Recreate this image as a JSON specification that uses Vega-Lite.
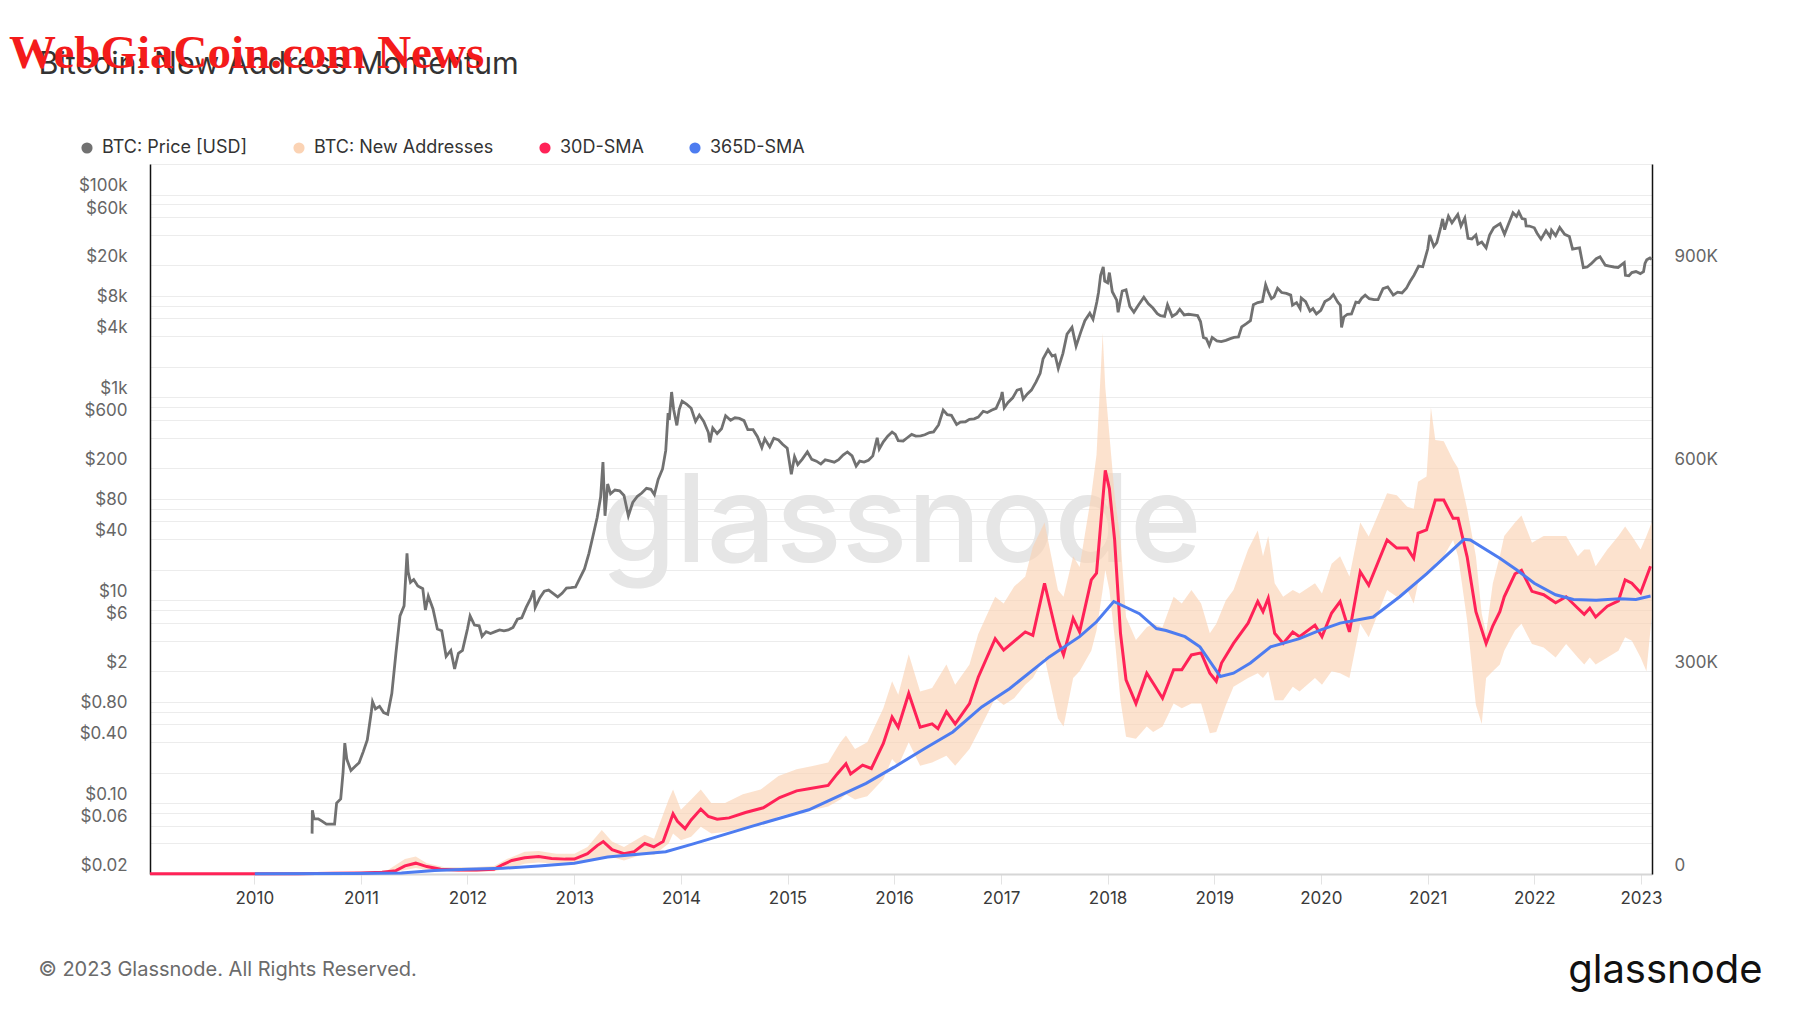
{
  "$schema": "https://vega.github.io/schema/vega-lite/v6.json",
  "autosize": "none",
  "padding": {"left": 150, "top": 164, "right": 148, "bottom": 139},
  "width": 1502,
  "height": 710,
  "background": "white",
  "config": {"view": {"stroke": null}, "font": "Inter"},
  "title": {"text": "WebGiaCoin.com News", "anchor": "start", "frame": "group", "dx": -141, "offset": -66, "baseline": "alphabetic", "font": "Liberation Serif", "fontSize": 47, "fontWeight": "bold", "color": "#f41b1b", "zindex": 10},
  "datasets": {
    "price": [
      {"d":"2010-07-18","p":0.05},{"d":"2010-07-19","p":0.085},{"d":"2010-07-25","p":0.07},{"d":"2010-08-08","p":0.07},{"d":"2010-08-22","p":0.066},{"d":"2010-09-05","p":0.062},{"d":"2010-09-19","p":0.062},{"d":"2010-10-03","p":0.062},{"d":"2010-10-10","p":0.1},{"d":"2010-10-24","p":0.11},{"d":"2010-11-01","p":0.2},{"d":"2010-11-07","p":0.39},{"d":"2010-11-14","p":0.27},{"d":"2010-11-28","p":0.21},{"d":"2010-12-12","p":0.23},{"d":"2010-12-26","p":0.25},
      {"d":"2011-01-09","p":0.32},{"d":"2011-01-23","p":0.42},{"d":"2011-02-06","p":0.8},{"d":"2011-02-10","p":1.0},{"d":"2011-02-20","p":0.85},{"d":"2011-03-06","p":0.9},{"d":"2011-03-20","p":0.78},{"d":"2011-04-03","p":0.75},{"d":"2011-04-17","p":1.2},{"d":"2011-05-01","p":3.0},{"d":"2011-05-15","p":7.0},{"d":"2011-05-29","p":8.8},{"d":"2011-06-08","p":29},{"d":"2011-06-12","p":19},{"d":"2011-06-20","p":15},{"d":"2011-07-01","p":16},{"d":"2011-07-15","p":13.8},{"d":"2011-08-01","p":13},{"d":"2011-08-10","p":8},{"d":"2011-08-20","p":11},{"d":"2011-09-05","p":8.2},{"d":"2011-09-20","p":5.2},{"d":"2011-10-05","p":5},{"d":"2011-10-20","p":2.8},{"d":"2011-11-05","p":3.2},{"d":"2011-11-18","p":2.1},{"d":"2011-12-01","p":3},{"d":"2011-12-15","p":3.2},
      {"d":"2012-01-01","p":5.2},{"d":"2012-01-10","p":7},{"d":"2012-01-25","p":5.7},{"d":"2012-02-10","p":5.6},{"d":"2012-02-20","p":4.4},{"d":"2012-03-05","p":4.9},{"d":"2012-03-20","p":4.7},{"d":"2012-04-05","p":4.9},{"d":"2012-04-20","p":5.1},{"d":"2012-05-05","p":5.0},{"d":"2012-05-20","p":5.1},{"d":"2012-06-05","p":5.4},{"d":"2012-06-20","p":6.5},{"d":"2012-07-05","p":6.7},{"d":"2012-07-20","p":8.5},{"d":"2012-08-05","p":10.5},{"d":"2012-08-15","p":12.5},{"d":"2012-08-20","p":8.5},{"d":"2012-09-05","p":10.6},{"d":"2012-09-20","p":12.3},{"d":"2012-10-05","p":12.6},{"d":"2012-10-20","p":11.7},{"d":"2012-11-05","p":10.8},{"d":"2012-11-20","p":11.7},{"d":"2012-12-05","p":13.2},{"d":"2012-12-20","p":13.3},
      {"d":"2013-01-05","p":13.5},{"d":"2013-01-20","p":16.5},{"d":"2013-02-05","p":20.5},{"d":"2013-02-20","p":29},{"d":"2013-03-05","p":42},{"d":"2013-03-20","p":65},{"d":"2013-04-01","p":104},{"d":"2013-04-09","p":230},{"d":"2013-04-16","p":68},{"d":"2013-04-25","p":140},{"d":"2013-05-05","p":112},{"d":"2013-05-20","p":122},{"d":"2013-06-05","p":120},{"d":"2013-06-20","p":108},{"d":"2013-07-05","p":68},{"d":"2013-07-20","p":92},{"d":"2013-08-05","p":106},{"d":"2013-08-20","p":114},{"d":"2013-09-05","p":127},{"d":"2013-09-20","p":124},{"d":"2013-10-02","p":110},{"d":"2013-10-15","p":155},{"d":"2013-10-30","p":197},{"d":"2013-11-10","p":300},{"d":"2013-11-18","p":700},{"d":"2013-11-22","p":600},{"d":"2013-11-30","p":1130},{"d":"2013-12-07","p":760},{"d":"2013-12-18","p":530},{"d":"2013-12-26","p":760},
      {"d":"2014-01-05","p":920},{"d":"2014-01-20","p":860},{"d":"2014-02-05","p":780},{"d":"2014-02-20","p":580},{"d":"2014-03-05","p":670},{"d":"2014-03-20","p":580},{"d":"2014-04-05","p":450},{"d":"2014-04-10","p":360},{"d":"2014-04-20","p":500},{"d":"2014-05-05","p":440},{"d":"2014-05-20","p":490},{"d":"2014-06-03","p":660},{"d":"2014-06-20","p":595},{"d":"2014-07-05","p":630},{"d":"2014-07-20","p":620},{"d":"2014-08-05","p":590},{"d":"2014-08-18","p":480},{"d":"2014-09-05","p":480},{"d":"2014-09-20","p":410},{"d":"2014-10-05","p":320},{"d":"2014-10-15","p":390},{"d":"2014-11-01","p":325},{"d":"2014-11-15","p":395},{"d":"2014-12-01","p":380},{"d":"2014-12-15","p":345},{"d":"2014-12-31","p":315},
      {"d":"2015-01-14","p":175},{"d":"2015-01-25","p":260},{"d":"2015-02-05","p":218},{"d":"2015-02-20","p":245},{"d":"2015-03-10","p":290},{"d":"2015-03-25","p":245},{"d":"2015-04-10","p":235},{"d":"2015-04-25","p":220},{"d":"2015-05-10","p":242},{"d":"2015-05-25","p":237},{"d":"2015-06-10","p":230},{"d":"2015-06-25","p":243},{"d":"2015-07-10","p":270},{"d":"2015-07-25","p":290},{"d":"2015-08-10","p":265},{"d":"2015-08-24","p":210},{"d":"2015-09-05","p":235},{"d":"2015-09-20","p":230},{"d":"2015-10-05","p":240},{"d":"2015-10-20","p":265},{"d":"2015-11-04","p":400},{"d":"2015-11-11","p":310},{"d":"2015-11-25","p":365},{"d":"2015-12-10","p":415},{"d":"2015-12-25","p":455},
      {"d":"2016-01-05","p":432},{"d":"2016-01-15","p":375},{"d":"2016-02-01","p":372},{"d":"2016-02-15","p":400},{"d":"2016-03-01","p":432},{"d":"2016-03-15","p":415},{"d":"2016-04-01","p":417},{"d":"2016-04-15","p":428},{"d":"2016-05-01","p":450},{"d":"2016-05-15","p":457},{"d":"2016-06-01","p":535},{"d":"2016-06-17","p":750},{"d":"2016-07-01","p":675},{"d":"2016-07-15","p":665},{"d":"2016-08-02","p":540},{"d":"2016-08-15","p":570},{"d":"2016-09-01","p":575},{"d":"2016-09-15","p":607},{"d":"2016-10-01","p":615},{"d":"2016-10-15","p":640},{"d":"2016-11-01","p":730},{"d":"2016-11-15","p":710},{"d":"2016-12-01","p":750},{"d":"2016-12-15","p":780},
      {"d":"2017-01-01","p":1000},{"d":"2017-01-05","p":1130},{"d":"2017-01-12","p":790},{"d":"2017-01-25","p":890},{"d":"2017-02-10","p":990},{"d":"2017-02-25","p":1180},{"d":"2017-03-10","p":1210},{"d":"2017-03-18","p":960},{"d":"2017-04-01","p":1080},{"d":"2017-04-15","p":1180},{"d":"2017-05-01","p":1420},{"d":"2017-05-15","p":1730},{"d":"2017-05-25","p":2400},{"d":"2017-06-11","p":2950},{"d":"2017-06-25","p":2560},{"d":"2017-07-05","p":2620},{"d":"2017-07-16","p":1930},{"d":"2017-08-01","p":2720},{"d":"2017-08-15","p":4200},{"d":"2017-09-01","p":4900},{"d":"2017-09-15","p":3200},{"d":"2017-10-01","p":4400},{"d":"2017-10-15","p":5700},{"d":"2017-11-01","p":6750},{"d":"2017-11-12","p":5900},{"d":"2017-11-25","p":8700},{"d":"2017-12-01","p":10900},{"d":"2017-12-08","p":16000},{"d":"2017-12-17","p":19300},{"d":"2017-12-22","p":14000},
      {"d":"2018-01-01","p":13500},{"d":"2018-01-07","p":17000},{"d":"2018-01-17","p":11000},{"d":"2018-02-01","p":9100},{"d":"2018-02-06","p":6900},{"d":"2018-02-20","p":11200},{"d":"2018-03-05","p":11500},{"d":"2018-03-18","p":7900},{"d":"2018-04-01","p":6900},{"d":"2018-04-15","p":8000},{"d":"2018-05-05","p":9700},{"d":"2018-05-20","p":8400},{"d":"2018-06-05","p":7600},{"d":"2018-06-20","p":6700},{"d":"2018-07-01","p":6400},{"d":"2018-07-15","p":6300},{"d":"2018-07-25","p":8200},{"d":"2018-08-10","p":6300},{"d":"2018-08-25","p":6700},{"d":"2018-09-05","p":7400},{"d":"2018-09-20","p":6500},{"d":"2018-10-05","p":6600},{"d":"2018-10-20","p":6500},{"d":"2018-11-05","p":6400},{"d":"2018-11-15","p":5600},{"d":"2018-11-25","p":3900},{"d":"2018-12-05","p":3800},{"d":"2018-12-15","p":3250},{"d":"2018-12-25","p":3900},
      {"d":"2019-01-10","p":3600},{"d":"2019-01-25","p":3550},{"d":"2019-02-10","p":3650},{"d":"2019-02-25","p":3800},{"d":"2019-03-10","p":3900},{"d":"2019-03-25","p":3950},{"d":"2019-04-05","p":4950},{"d":"2019-04-20","p":5300},{"d":"2019-05-05","p":5700},{"d":"2019-05-15","p":8200},{"d":"2019-05-30","p":8600},{"d":"2019-06-15","p":8800},{"d":"2019-06-26","p":12900},{"d":"2019-07-05","p":11000},{"d":"2019-07-16","p":9400},{"d":"2019-07-25","p":9800},{"d":"2019-08-06","p":11900},{"d":"2019-08-20","p":10800},{"d":"2019-09-05","p":10600},{"d":"2019-09-20","p":10200},{"d":"2019-09-26","p":8100},{"d":"2019-10-10","p":8600},{"d":"2019-10-22","p":7500},{"d":"2019-10-26","p":9550},{"d":"2019-11-10","p":8800},{"d":"2019-11-25","p":7100},{"d":"2019-12-05","p":7500},{"d":"2019-12-17","p":6650},
      {"d":"2020-01-01","p":7200},{"d":"2020-01-15","p":8800},{"d":"2020-02-01","p":9400},{"d":"2020-02-13","p":10300},{"d":"2020-02-28","p":8700},{"d":"2020-03-08","p":8100},{"d":"2020-03-12","p":4900},{"d":"2020-03-20","p":6200},{"d":"2020-04-01","p":6600},{"d":"2020-04-15","p":6650},{"d":"2020-04-30","p":8700},{"d":"2020-05-10","p":8600},{"d":"2020-05-20","p":9500},{"d":"2020-06-01","p":10200},{"d":"2020-06-15","p":9400},{"d":"2020-07-01","p":9200},{"d":"2020-07-15","p":9200},{"d":"2020-08-01","p":11800},{"d":"2020-08-17","p":12300},{"d":"2020-09-05","p":10200},{"d":"2020-09-20","p":10900},{"d":"2020-10-05","p":10700},{"d":"2020-10-20","p":11900},{"d":"2020-11-01","p":13800},{"d":"2020-11-15","p":16000},{"d":"2020-12-01","p":19700},{"d":"2020-12-15","p":19400},
      {"d":"2021-01-01","p":29000},{"d":"2021-01-08","p":40000},{"d":"2021-01-22","p":30800},{"d":"2021-02-01","p":33500},{"d":"2021-02-15","p":48000},{"d":"2021-02-21","p":57500},{"d":"2021-02-28","p":45000},{"d":"2021-03-13","p":61000},{"d":"2021-03-25","p":52500},{"d":"2021-04-14","p":63500},{"d":"2021-04-25","p":49000},{"d":"2021-05-08","p":58500},{"d":"2021-05-19","p":37000},{"d":"2021-06-01","p":36500},{"d":"2021-06-15","p":40000},{"d":"2021-06-22","p":32500},{"d":"2021-07-05","p":34000},{"d":"2021-07-20","p":29800},{"d":"2021-08-01","p":39900},{"d":"2021-08-15","p":47000},{"d":"2021-09-06","p":51700},{"d":"2021-09-21","p":40600},{"d":"2021-10-01","p":48200},{"d":"2021-10-20","p":66000},{"d":"2021-11-01","p":61000},{"d":"2021-11-09","p":67500},{"d":"2021-11-20","p":58000},{"d":"2021-12-01","p":57000},{"d":"2021-12-04","p":49000},{"d":"2021-12-15","p":48900},
      {"d":"2022-01-01","p":47000},{"d":"2022-01-10","p":41800},{"d":"2022-01-24","p":36300},{"d":"2022-02-10","p":44000},{"d":"2022-02-24","p":38300},{"d":"2022-03-01","p":44400},{"d":"2022-03-15","p":39300},{"d":"2022-03-29","p":47400},{"d":"2022-04-15","p":40500},{"d":"2022-05-01","p":38500},{"d":"2022-05-12","p":29000},{"d":"2022-05-25","p":29500},{"d":"2022-06-05","p":29800},{"d":"2022-06-18","p":19000},{"d":"2022-07-01","p":19300},{"d":"2022-07-15","p":20800},{"d":"2022-08-01","p":23300},{"d":"2022-08-14","p":24300},{"d":"2022-09-01","p":20100},{"d":"2022-09-15","p":19700},{"d":"2022-10-01","p":19300},{"d":"2022-10-15","p":19100},{"d":"2022-11-05","p":21300},{"d":"2022-11-09","p":16000},{"d":"2022-11-21","p":15800},{"d":"2022-12-01","p":17000},{"d":"2022-12-15","p":17400},{"d":"2022-12-30","p":16600},
      {"d":"2023-01-10","p":17400},{"d":"2023-01-15","p":20900},{"d":"2023-01-21","p":22700},{"d":"2023-02-01","p":23700},{"d":"2023-02-07","p":22900}
    ],
    "sma30": [
      {"d":"2009-01-09","v":200},{"d":"2009-06-01","v":300},{"d":"2009-12-01","v":300},{"d":"2010-06-01","v":500},{"d":"2010-10-01","v":1000},{"d":"2011-01-01","v":1500},{"d":"2011-03-15","v":2500},{"d":"2011-05-01","v":5000},{"d":"2011-06-01","v":12000},{"d":"2011-07-08","v":16000},{"d":"2011-08-15","v":11000},{"d":"2011-10-01","v":7000},{"d":"2011-12-01","v":6000},
      {"d":"2012-02-01","v":6000},{"d":"2012-04-01","v":7000},{"d":"2012-05-01","v":14000},{"d":"2012-06-01","v":20000},{"d":"2012-07-15","v":24000},{"d":"2012-09-01","v":26000},{"d":"2012-10-15","v":23000},{"d":"2012-12-01","v":22000},
      {"d":"2013-01-01","v":22000},{"d":"2013-02-15","v":30000},{"d":"2013-03-20","v":42000},{"d":"2013-04-10","v":48000},{"d":"2013-05-10","v":36000},{"d":"2013-06-20","v":30000},{"d":"2013-07-25","v":33000},{"d":"2013-08-30","v":45000},{"d":"2013-09-30","v":40000},{"d":"2013-11-01","v":48000},{"d":"2013-12-05","v":89000},{"d":"2013-12-20","v":78000},
      {"d":"2014-01-15","v":67000},{"d":"2014-02-05","v":80000},{"d":"2014-03-10","v":96000},{"d":"2014-04-05","v":85000},{"d":"2014-05-05","v":81000},{"d":"2014-06-15","v":83000},{"d":"2014-08-10","v":91000},{"d":"2014-10-10","v":98000},{"d":"2014-12-05","v":113000},
      {"d":"2015-02-01","v":123000},{"d":"2015-03-15","v":126000},{"d":"2015-05-20","v":131000},{"d":"2015-06-20","v":148000},{"d":"2015-07-20","v":163000},{"d":"2015-08-05","v":148000},{"d":"2015-09-15","v":161000},{"d":"2015-10-15","v":156000},{"d":"2015-11-25","v":193000},{"d":"2015-12-25","v":232000},
      {"d":"2016-01-15","v":217000},{"d":"2016-02-20","v":267000},{"d":"2016-03-30","v":217000},{"d":"2016-05-10","v":222000},{"d":"2016-05-30","v":215000},{"d":"2016-06-28","v":240000},{"d":"2016-07-28","v":222000},{"d":"2016-09-15","v":252000},{"d":"2016-10-15","v":291000},{"d":"2016-12-12","v":348000},
      {"d":"2017-01-10","v":331000},{"d":"2017-03-25","v":358000},{"d":"2017-04-20","v":353000},{"d":"2017-05-30","v":430000},{"d":"2017-07-15","v":346000},{"d":"2017-08-03","v":324000},{"d":"2017-09-05","v":378000},{"d":"2017-09-27","v":358000},{"d":"2017-11-06","v":435000},{"d":"2017-11-24","v":445000},{"d":"2017-12-24","v":597000},
      {"d":"2018-01-07","v":570000},{"d":"2018-01-25","v":494000},{"d":"2018-02-14","v":356000},{"d":"2018-03-05","v":287000},{"d":"2018-04-08","v":252000},{"d":"2018-05-15","v":297000},{"d":"2018-06-06","v":282000},{"d":"2018-07-08","v":260000},{"d":"2018-08-15","v":302000},{"d":"2018-09-12","v":302000},{"d":"2018-10-15","v":324000},{"d":"2018-11-17","v":327000},{"d":"2018-12-17","v":297000},
      {"d":"2019-01-08","v":285000},{"d":"2019-01-26","v":312000},{"d":"2019-03-08","v":341000},{"d":"2019-04-27","v":371000},{"d":"2019-05-30","v":403000},{"d":"2019-06-17","v":388000},{"d":"2019-07-05","v":408000},{"d":"2019-07-27","v":356000},{"d":"2019-08-25","v":341000},{"d":"2019-09-27","v":358000},{"d":"2019-10-20","v":351000},{"d":"2019-12-12","v":368000},
      {"d":"2020-01-05","v":351000},{"d":"2020-02-07","v":386000},{"d":"2020-03-07","v":403000},{"d":"2020-04-08","v":358000},{"d":"2020-05-15","v":447000},{"d":"2020-06-13","v":427000},{"d":"2020-08-15","v":494000},{"d":"2020-09-17","v":482000},{"d":"2020-10-23","v":482000},{"d":"2020-11-14","v":467000},{"d":"2020-11-29","v":504000},{"d":"2020-12-28","v":509000},
      {"d":"2021-01-27","v":553000},{"d":"2021-02-25","v":553000},{"d":"2021-03-29","v":526000},{"d":"2021-04-15","v":526000},{"d":"2021-05-16","v":469000},{"d":"2021-06-15","v":388000},{"d":"2021-07-20","v":341000},{"d":"2021-08-12","v":367000},{"d":"2021-09-05","v":388000},{"d":"2021-09-20","v":410000},{"d":"2021-10-27","v":444000},{"d":"2021-11-18","v":449000},{"d":"2021-12-24","v":418000},
      {"d":"2022-02-02","v":413000},{"d":"2022-03-15","v":401000},{"d":"2022-04-20","v":410000},{"d":"2022-05-30","v":393000},{"d":"2022-06-21","v":384000},{"d":"2022-07-10","v":393000},{"d":"2022-07-30","v":380000},{"d":"2022-09-08","v":396000},{"d":"2022-10-16","v":404000},{"d":"2022-11-08","v":435000},{"d":"2022-12-01","v":430000},{"d":"2022-12-31","v":416000},{"d":"2023-02-03","v":455000}
    ],
    "sma365": [
      {"d":"2010-01-03","v":500},{"d":"2010-12-01","v":800},{"d":"2011-05-20","v":1500},{"d":"2011-09-10","v":5000},{"d":"2012-01-01","v":7000},{"d":"2012-05-01","v":8500},{"d":"2012-09-01","v":12000},{"d":"2013-01-01","v":16000},{"d":"2013-04-25","v":25000},{"d":"2013-11-10","v":33000},{"d":"2014-02-15","v":45000},{"d":"2014-08-28","v":70000},{"d":"2015-03-15","v":95000},{"d":"2015-09-27","v":134000},{"d":"2016-01-01","v":158000},{"d":"2016-04-12","v":185000},{"d":"2016-07-20","v":210000},{"d":"2016-10-27","v":247000},{"d":"2017-01-30","v":274000},{"d":"2017-06-15","v":321000},{"d":"2017-09-27","v":351000},{"d":"2017-11-24","v":373000},{"d":"2018-01-22","v":403000},{"d":"2018-04-20","v":385000},{"d":"2018-06-17","v":363000},{"d":"2018-07-20","v":360000},{"d":"2018-09-23","v":351000},{"d":"2018-11-13","v":336000},{"d":"2019-01-22","v":292000},{"d":"2019-03-08","v":297000},{"d":"2019-05-05","v":312000},{"d":"2019-07-13","v":336000},{"d":"2019-10-20","v":348000},{"d":"2020-01-01","v":361000},{"d":"2020-03-07","v":371000},{"d":"2020-06-28","v":380000},{"d":"2020-09-27","v":410000},{"d":"2020-12-28","v":444000},{"d":"2021-05-05","v":495000},{"d":"2021-05-27","v":494000},{"d":"2021-09-05","v":467000},{"d":"2021-11-01","v":450000},{"d":"2022-01-01","v":430000},{"d":"2022-03-15","v":413000},{"d":"2022-05-15","v":406000},{"d":"2022-08-01","v":405000},{"d":"2022-10-20","v":407000},{"d":"2022-12-15","v":406000},{"d":"2023-02-03","v":411000}
    ],
    "band": [
      {"d":"2009-01-09","lo":0,"hi":500},{"d":"2010-01-01","lo":0,"hi":1000},{"d":"2010-07-01","lo":0,"hi":1500},{"d":"2011-01-01","lo":500,"hi":3000},{"d":"2011-04-01","lo":1000,"hi":5000},{"d":"2011-06-01","lo":6000,"hi":22000},{"d":"2011-07-08","lo":9000,"hi":26000},{"d":"2011-08-15","lo":6000,"hi":16000},{"d":"2011-10-15","lo":4000,"hi":10000},
      {"d":"2012-01-15","lo":3000,"hi":10000},{"d":"2012-04-01","lo":4000,"hi":12000},{"d":"2012-05-15","lo":8000,"hi":22000},{"d":"2012-07-15","lo":15000,"hi":33000},{"d":"2012-09-01","lo":17000,"hi":34000},{"d":"2012-11-01","lo":15000,"hi":30000},
      {"d":"2013-01-01","lo":14000,"hi":30000},{"d":"2013-02-15","lo":20000,"hi":40000},{"d":"2013-04-05","lo":25000,"hi":65000},{"d":"2013-05-10","lo":25000,"hi":48000},{"d":"2013-06-20","lo":20000,"hi":40000},{"d":"2013-08-30","lo":30000,"hi":58000},{"d":"2013-10-01","lo":28000,"hi":52000},{"d":"2013-11-20","lo":45000,"hi":110000},{"d":"2013-12-05","lo":60000,"hi":125000},
      {"d":"2014-01-01","lo":50000,"hi":95000},{"d":"2014-02-05","lo":55000,"hi":110000},{"d":"2014-03-10","lo":70000,"hi":125000},{"d":"2014-04-15","lo":60000,"hi":105000},{"d":"2014-06-01","lo":62000,"hi":105000},{"d":"2014-08-01","lo":68000,"hi":118000},{"d":"2014-10-01","lo":72000,"hi":125000},{"d":"2014-12-01","lo":85000,"hi":145000},
      {"d":"2015-02-01","lo":92000,"hi":155000},{"d":"2015-04-01","lo":95000,"hi":160000},{"d":"2015-05-20","lo":100000,"hi":165000},{"d":"2015-07-01","lo":110000,"hi":195000},{"d":"2015-07-20","lo":118000,"hi":205000},{"d":"2015-08-20","lo":110000,"hi":185000},{"d":"2015-10-01","lo":115000,"hi":195000},{"d":"2015-11-25","lo":140000,"hi":245000},{"d":"2015-12-25","lo":170000,"hi":285000},
      {"d":"2016-01-15","lo":160000,"hi":265000},{"d":"2016-02-20","lo":195000,"hi":325000},{"d":"2016-03-30","lo":160000,"hi":270000},{"d":"2016-05-10","lo":165000,"hi":275000},{"d":"2016-06-28","lo":175000,"hi":310000},{"d":"2016-07-28","lo":160000,"hi":280000},{"d":"2016-09-15","lo":185000,"hi":310000},{"d":"2016-10-15","lo":210000,"hi":355000},{"d":"2016-12-12","lo":260000,"hi":410000},
      {"d":"2017-01-10","lo":250000,"hi":400000},{"d":"2017-02-15","lo":260000,"hi":425000},{"d":"2017-03-25","lo":280000,"hi":440000},{"d":"2017-04-20","lo":290000,"hi":484000},{"d":"2017-05-30","lo":320000,"hi":520000},{"d":"2017-07-15","lo":230000,"hi":420000},{"d":"2017-08-03","lo":218000,"hi":410000},{"d":"2017-09-05","lo":290000,"hi":470000},{"d":"2017-09-27","lo":300000,"hi":454000},{"d":"2017-11-06","lo":330000,"hi":560000},{"d":"2017-11-24","lo":360000,"hi":620000},{"d":"2017-12-15","lo":420000,"hi":800000},{"d":"2017-12-24","lo":450000,"hi":720000},
      {"d":"2018-01-07","lo":420000,"hi":650000},{"d":"2018-01-25","lo":350000,"hi":560000},{"d":"2018-02-14","lo":257000,"hi":494000},{"d":"2018-03-05","lo":203000,"hi":380000},{"d":"2018-04-08","lo":200000,"hi":346000},{"d":"2018-05-15","lo":218000,"hi":365000},{"d":"2018-06-06","lo":210000,"hi":370000},{"d":"2018-07-08","lo":218000,"hi":365000},{"d":"2018-08-15","lo":252000,"hi":410000},{"d":"2018-09-12","lo":245000,"hi":400000},{"d":"2018-10-15","lo":252000,"hi":420000},{"d":"2018-11-17","lo":252000,"hi":400000},{"d":"2018-12-17","lo":208000,"hi":356000},
      {"d":"2019-01-08","lo":210000,"hi":370000},{"d":"2019-02-10","lo":250000,"hi":405000},{"d":"2019-03-08","lo":277000,"hi":420000},{"d":"2019-04-27","lo":290000,"hi":480000},{"d":"2019-05-30","lo":297000,"hi":508000},{"d":"2019-06-17","lo":290000,"hi":470000},{"d":"2019-07-05","lo":300000,"hi":500000},{"d":"2019-07-27","lo":257000,"hi":430000},{"d":"2019-08-25","lo":257000,"hi":410000},{"d":"2019-09-27","lo":277000,"hi":420000},{"d":"2019-10-20","lo":270000,"hi":415000},{"d":"2019-12-12","lo":290000,"hi":430000},
      {"d":"2020-01-05","lo":280000,"hi":415000},{"d":"2020-02-07","lo":300000,"hi":459000},{"d":"2020-03-07","lo":297000,"hi":470000},{"d":"2020-04-08","lo":290000,"hi":440000},{"d":"2020-05-15","lo":370000,"hi":520000},{"d":"2020-06-13","lo":350000,"hi":499000},{"d":"2020-08-15","lo":420000,"hi":563000},{"d":"2020-09-17","lo":410000,"hi":560000},{"d":"2020-10-23","lo":420000,"hi":543000},{"d":"2020-11-14","lo":400000,"hi":540000},{"d":"2020-11-29","lo":430000,"hi":580000},{"d":"2020-12-28","lo":445000,"hi":588000},
      {"d":"2021-01-12","lo":450000,"hi":690000},{"d":"2021-01-27","lo":460000,"hi":642000},{"d":"2021-02-25","lo":470000,"hi":640000},{"d":"2021-03-29","lo":494000,"hi":612000},{"d":"2021-04-15","lo":470000,"hi":600000},{"d":"2021-05-16","lo":375000,"hi":540000},{"d":"2021-06-15","lo":250000,"hi":470000},{"d":"2021-07-05","lo":222000,"hi":385000},{"d":"2021-07-20","lo":290000,"hi":356000},{"d":"2021-08-12","lo":300000,"hi":430000},{"d":"2021-09-05","lo":310000,"hi":470000},{"d":"2021-09-20","lo":330000,"hi":500000},{"d":"2021-10-27","lo":360000,"hi":520000},{"d":"2021-11-18","lo":370000,"hi":530000},{"d":"2021-12-24","lo":340000,"hi":490000},
      {"d":"2022-02-02","lo":335000,"hi":500000},{"d":"2022-03-15","lo":320000,"hi":500000},{"d":"2022-04-20","lo":340000,"hi":500000},{"d":"2022-05-30","lo":320000,"hi":470000},{"d":"2022-06-21","lo":310000,"hi":480000},{"d":"2022-07-10","lo":320000,"hi":480000},{"d":"2022-07-30","lo":310000,"hi":455000},{"d":"2022-09-08","lo":320000,"hi":480000},{"d":"2022-10-16","lo":330000,"hi":500000},{"d":"2022-11-08","lo":350000,"hi":514000},{"d":"2022-12-01","lo":345000,"hi":500000},{"d":"2022-12-31","lo":320000,"hi":480000},{"d":"2023-01-20","lo":300000,"hi":500000},{"d":"2023-02-07","lo":380000,"hi":520000}
    ]
  },
  "layer": [
    {
      "data": {"values": [{"t": "glassnode"}]},
      "mark": {"type": "text", "x": {"expr": "width/2"}, "y": {"expr": "height*0.5606"}, "align": "center", "baseline": "alphabetic", "font": "Inter", "fontSize": 122, "fontWeight": 500, "color": "#e6e6e6"},
      "encoding": {"text": {"field": "t", "type": "nominal"}}
    },
    {
      "data": {"name": "price"},
      "mark": {"type": "line", "strokeWidth": 2.8, "interpolate": "linear"},
      "encoding": {
        "x": {"field": "d", "type": "temporal", "scale": {"domain": [{"year": 2009, "month": 1, "date": 9}, {"year": 2023, "month": 2, "date": 8}]},
          "axis": {"values": [{"year":2010,"month":1,"date":1},{"year":2011,"month":1,"date":1},{"year":2012,"month":1,"date":1},{"year":2013,"month":1,"date":1},{"year":2014,"month":1,"date":1},{"year":2015,"month":1,"date":1},{"year":2016,"month":1,"date":1},{"year":2017,"month":1,"date":1},{"year":2018,"month":1,"date":1},{"year":2019,"month":1,"date":1},{"year":2020,"month":1,"date":1},{"year":2021,"month":1,"date":1},{"year":2022,"month":1,"date":1},{"year":2023,"month":1,"date":1}],
            "format": "%Y", "grid": false, "labelFlush": false, "labelOverlap": false, "labelFont": "Inter", "labelFontSize": 17, "labelColor": "#3a3a3a", "labelPadding": 6, "ticks": true, "tickSize": 10, "tickColor": "#e3e3e3", "tickWidth": 1, "domainColor": "#d6d6d6", "domainWidth": 2,
            "title": "© 2023 Glassnode. All Rights Reserved.", "titleX": -112, "titleY": 101, "titleAlign": "left", "titleAnchor": null, "titleBaseline": "alphabetic", "titleFont": "Inter", "titleFontSize": 20, "titleFontWeight": 400, "titleColor": "#6b6b6b"}},
        "y": {"field": "p", "type": "quantitative", "scale": {"type": "log", "domain": [0.02, 200000], "nice": false},
          "axis": {"orient": "left", "values": [0.02,0.04,0.06,0.08,0.1,0.2,0.4,0.6,0.8,1,2,4,6,8,10,20,40,60,80,100,200,400,600,800,1000,2000,4000,6000,8000,10000,20000,40000,60000,80000,100000,200000],
            "labelExpr": "indexof([100000,60000,20000,8000,4000,1000,600,200,80,40,10,6,2,0.8,0.4,0.1,0.06,0.02], datum.value) < 0 ? '' : (datum.value >= 1000 ? '$' + format(datum.value/1000, 'd') + 'k' : (datum.value >= 1 ? '$' + format(datum.value, 'd') : '$' + format(datum.value, '.2f')))",
            "labelOverlap": false, "labelBound": false, "labelFlush": false, "labelFont": "Inter", "labelFontSize": 17, "labelColor": "#666666", "labelPadding": 23, "labelOffset": -9, "ticks": false, "tickSize": 0, "domainColor": "#111111", "domainWidth": 1.5, "grid": true, "gridColor": "#ececec", "gridWidth": 1,
            "title": "Bitcoin: New Address Momentum", "titleAngle": 0, "titleAlign": "left", "titleAnchor": null, "titleBaseline": "alphabetic", "titleX": -112, "titleY": -91, "titleFont": "Inter", "titleFontSize": 30.5, "titleFontWeight": 400, "titleColor": "#333333"}},
        "color": {"datum": "BTC: Price [USD]", "type": "nominal",
          "scale": {"domain": ["BTC: Price [USD]", "BTC: New Addresses", "30D-SMA", "365D-SMA"], "range": ["#717171", "#fbd3b4", "#ff2257", "#4d7cf0"]},
          "legend": {"orient": "none", "legendX": -72, "legendY": -25, "direction": "horizontal", "title": null, "padding": 0, "symbolType": "circle", "symbolSize": 125, "symbolStrokeWidth": 0, "labelFont": "Inter", "labelFontSize": 18, "labelColor": "#333333", "labelOffset": 6, "labelLimit": 300, "columnPadding": 42,
            "encode": {"symbols": {"update": {"fill": {"scale": "color", "field": "value"}, "stroke": {"value": "transparent"}, "opacity": {"value": 1}}}}}}
      }
    },
    {
      "data": {"name": "band"},
      "mark": {"type": "area", "opacity": 0.65, "interpolate": "linear"},
      "encoding": {
        "x": {"field": "d", "type": "temporal"},
        "y": {"field": "lo", "type": "quantitative", "scale": {"domain": [0, 1050000], "nice": false},
          "axis": {"orient": "right", "values": [0, 300000, 600000, 900000], "labelExpr": "datum.value == 0 ? '0' : format(datum.value/1000, 'd') + 'K'", "labelOverlap": false, "labelFont": "Inter", "labelFontSize": 17, "labelColor": "#666666", "labelPadding": 22, "labelOffset": -9, "ticks": false, "tickSize": 0, "domainColor": "#111111", "domainWidth": 1.5, "grid": false,
            "title": "glassnode", "titleAngle": 0, "titleAlign": "right", "titleAnchor": null, "titleBaseline": "alphabetic", "titleX": 110, "titleY": 818, "titleFont": "Inter", "titleFontSize": 40, "titleFontWeight": 400, "titleColor": "#111111"}},
        "y2": {"field": "hi"},
        "color": {"datum": "BTC: New Addresses", "type": "nominal"}
      }
    },
    {
      "data": {"name": "sma30"},
      "mark": {"type": "line", "strokeWidth": 3},
      "encoding": {
        "x": {"field": "d", "type": "temporal"},
        "y": {"field": "v", "type": "quantitative", "scale": {"domain": [0, 1050000], "nice": false}, "axis": null},
        "color": {"datum": "30D-SMA", "type": "nominal"}
      }
    },
    {
      "data": {"name": "sma365"},
      "mark": {"type": "line", "strokeWidth": 3},
      "encoding": {
        "x": {"field": "d", "type": "temporal"},
        "y": {"field": "v", "type": "quantitative", "scale": {"domain": [0, 1050000], "nice": false}, "axis": null},
        "color": {"datum": "365D-SMA", "type": "nominal"}
      }
    }
  ],
  "resolve": {"scale": {"y": "independent"}}
}
